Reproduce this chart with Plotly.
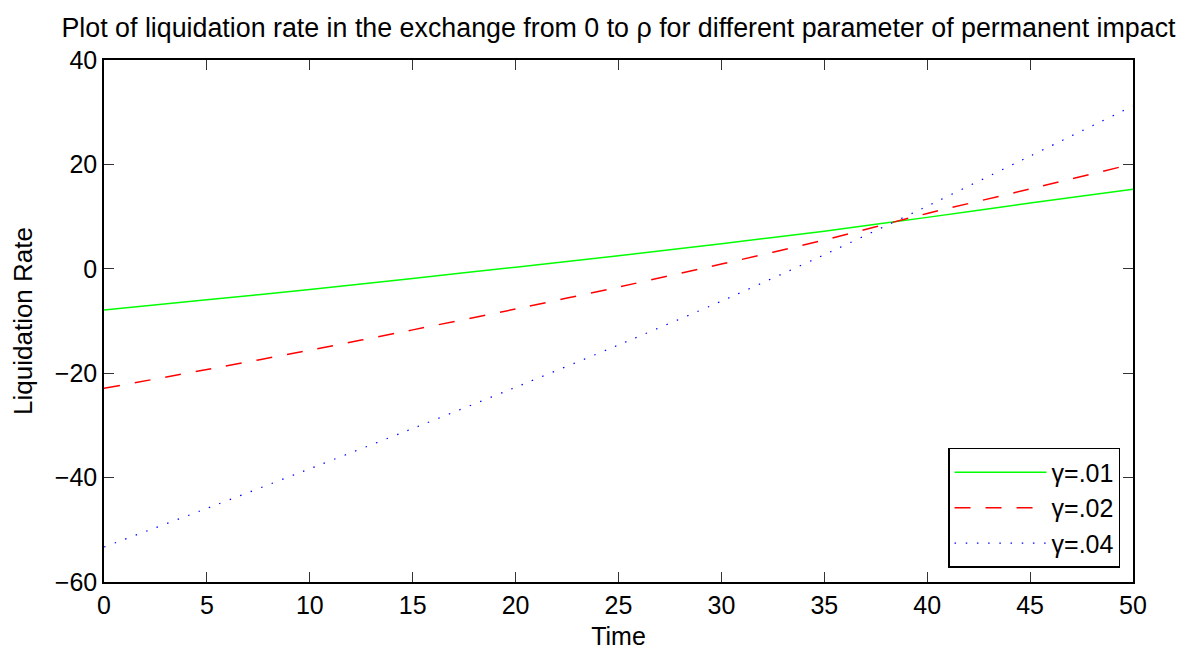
import plotly.graph_objects as go

time = [0, 5, 10, 15, 20, 25, 30, 35, 40, 45, 50]
rate_g01 = [-7.9, -5.95, -3.95, -1.85, 0.3, 2.5, 4.8, 7.2, 9.85, 12.6, 15.25]
rate_g02 = [-22.9, -19.3, -15.6, -11.7, -7.7, -3.5, 0.9, 5.5, 10.6, 15.3, 20.1]
rate_g04 = [-53.3, -45.9, -38.3, -30.6, -22.7, -14.6, -6.2, 2.7, 12.0, 21.6, 31.2]
names = ["γ=.01", "γ=.02", "γ=.04"]
x_ticks = [0, 5, 10, 15, 20, 25, 30, 35, 40, 45, 50]
y_ticks = [-60, -40, -20, 0, 20, 40]

FONT = "Liberation Sans, Arial, sans-serif"
FS = 25

fig = go.Figure()
fig.add_trace(go.Scatter(x=time, y=rate_g01, mode="lines", name=names[0],
                         line=dict(color="#00ff00", width=1.5, shape="spline", smoothing=0.6)))
fig.add_trace(go.Scatter(x=time, y=rate_g02, mode="lines", name=names[1],
                         line=dict(color="#ff0000", width=1.5, dash="16px,15px", shape="spline", smoothing=0.6)))
fig.add_trace(go.Scatter(x=time, y=rate_g04, mode="lines", name=names[2],
                         line=dict(color="#0000ff", width=1.2, dash="1.5px,9.7px", shape="spline", smoothing=0.6)))

axis_common = dict(
    showgrid=False, zeroline=False, showline=True, linecolor="black", linewidth=1.5,
    mirror="ticks", ticks="inside", ticklen=10, tickwidth=1, tickcolor="#333",
    tickfont=dict(family=FONT, size=FS, color="black"), automargin=False,
)

fig.update_layout(
    width=1182, height=650,
    margin=dict(l=104, r=49, t=60, b=68),
    paper_bgcolor="white", plot_bgcolor="white",
    title=dict(text="Plot of liquidation rate in the exchange from 0 to ρ for different parameter of permanent impact",
               font=dict(family=FONT, size=26.8, color="black"),
               x=0.5, xanchor="center", xref="paper", y=1 - 28 / 650, yanchor="middle"),
    xaxis=dict(range=[0, 50], tickvals=x_ticks, ticktext=[str(v) for v in x_ticks],
               title=dict(text="Time", font=dict(family=FONT, size=FS, color="black"), standoff=10),
               **axis_common),
    yaxis=dict(range=[-60, 40], tickvals=y_ticks, ticktext=[("−" + str(-v)) if v < 0 else str(v) for v in y_ticks],
               title=dict(text="Liquidation Rate", font=dict(family=FONT, size=26, color="black"), standoff=15),
               **axis_common),
    legend=dict(x=0.9874, y=0.027, xanchor="right", yanchor="bottom",
                bgcolor="white", bordercolor="black", borderwidth=1.5,
                font=dict(family=FONT, size=FS, color="black"),
                itemwidth=92, tracegroupgap=0),
    showlegend=True,
)

fig.write_html("out.html")
